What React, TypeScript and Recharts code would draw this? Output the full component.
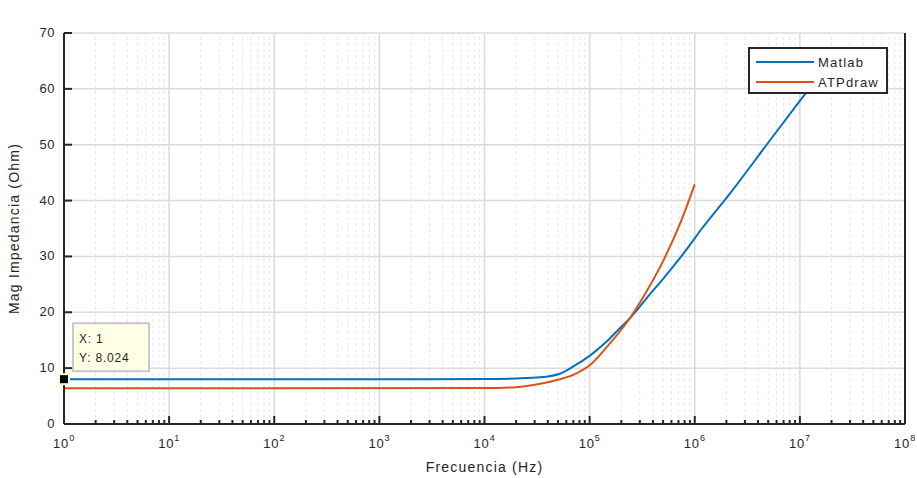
import { LineChart, Line, XAxis, YAxis, CartesianGrid, ReferenceLine, ReferenceDot, Label } from 'recharts';

// Matlab curve (blue)
const matlabFreq = [1, 1e3, 1e4, 2e4, 3.4e4, 5.2e4, 7e4, 1e5, 1.46e5, 1.95e5, 2.3e5, 3.77e5, 5e5, 8.4e5, 1.17e6, 2.17e6, 5.2e6, 1.2e7];
const matlabMag = [8.024, 8.024, 8.06, 8.15, 8.35, 9.0, 10.3, 12.2, 14.8, 17.2, 18.5, 23.3, 26.0, 31.3, 35.0, 41.3, 50.8, 59.8];

// ATPdraw curve (orange)
const atpFreq = [1, 1e4, 2e4, 3.4e4, 5.2e4, 7e4, 1e5, 1.46e5, 2.3e5, 3.25e5, 5.04e5, 7.26e5, 1e6];
const atpMag = [6.4, 6.45, 6.6, 7.2, 8.0, 8.8, 10.5, 13.8, 18.4, 22.8, 29.3, 35.9, 42.9];

const decades = [1, 10, 100, 1e3, 1e4, 1e5, 1e6, 1e7, 1e8];
const yTicks = [0, 10, 20, 30, 40, 50, 60, 70];
const minorTicks: number[] = [];
decades.slice(0, -1).forEach(d => {
  for (let k = 2; k <= 9; k++) minorTicks.push(d * k);
});
const allXTicks = [...decades, ...minorTicks].sort((a, b) => a - b);

const tip = { x: 1, y: 8.024 };

const matlabData = matlabFreq.map((f, i) => ({ f, v: matlabMag[i] }));
const atpData = atpFreq.map((f, i) => ({ f, v: atpMag[i] }));

const FONT = 'Liberation Sans, Arial, Helvetica, sans-serif';
const AX = '#262626';

const isDecade = (v: number) => decades.some(d => Math.abs(d - v) / d < 1e-9);

function BottomTick(props: any) {
  const { x, y, payload } = props;
  const major = isDecade(payload.value);
  const exp = Math.round(Math.log10(payload.value));
  return (
    <g>
      <line x1={x} y1={y} x2={x} y2={y - (major ? 8 : 4)} stroke={AX} strokeWidth={2} />
      {major && (
        <text x={x} y={y + 24} textAnchor="middle" fill={AX} fontSize={13} letterSpacing={0.8} fontFamily={FONT}>
          <tspan>10</tspan>
          <tspan dy={-7} fontSize={9}>{exp}</tspan>
        </text>
      )}
    </g>
  );
}

function TopTick(props: any) {
  const { x, y, payload } = props;
  const major = isDecade(payload.value);
  return <line x1={x} y1={y} x2={x} y2={y + (major ? 8 : 4)} stroke={AX} strokeWidth={2} />;
}

function LeftTick(props: any) {
  const { x, y, payload } = props;
  return (
    <g>
      <line x1={x + 9} y1={y} x2={x + 17} y2={y} stroke={AX} strokeWidth={2} />
      <text x={x} y={y + 4} textAnchor="end" fill={AX} fontSize={13} letterSpacing={0.5} fontFamily={FONT}>
        {payload.value}
      </text>
    </g>
  );
}

function RightTick(props: any) {
  const { x, y } = props;
  return <line x1={x} y1={y} x2={x - 8} y2={y} stroke={AX} strokeWidth={2} />;
}

function DataTip(props: any) {
  const { cx, cy } = props;
  return (
    <g>
      <rect x={cx + 9} y={cy - 56} width={76} height={48} fill="#ffffe6" stroke="#c8c8c8" strokeWidth={2} />
      <text x={cx + 15} y={cy - 36} fill={AX} fontSize={12} letterSpacing={0.8} fontFamily={FONT}>X: {tip.x}</text>
      <text x={cx + 15} y={cy - 17} fill={AX} fontSize={12} letterSpacing={0.8} fontFamily={FONT}>Y: {tip.y}</text>
      <rect x={cx - 5} y={cy - 5} width={10} height={10} fill="#000" stroke="#ffffcc" strokeWidth={2} />
    </g>
  );
}

export default function App() {
  return (
    <div style={{ position: 'absolute', left: 0, top: 0, width: 917, height: 478, background: '#fff', fontFamily: FONT }}>
      <LineChart width={917} height={478} margin={{ top: 33, right: 0, left: 0, bottom: 0 }}>
        <CartesianGrid vertical={false} stroke="#dadada" strokeWidth={1.5} yAxisId={0} />
        {minorTicks.map(v => (
          <ReferenceLine key={'m' + v} x={v} stroke="#e6e6e6" strokeWidth={1} strokeDasharray="3 3" />
        ))}
        {decades.slice(1, -1).map(v => (
          <ReferenceLine key={'d' + v} x={v} stroke="#dadada" strokeWidth={1.5} />
        ))}
        <XAxis
          dataKey="f"
          type="number"
          scale="log"
          domain={[1, 1e8]}
          ticks={allXTicks}
          interval={0}
          allowDataOverflow
          height={54}
          tickSize={0}
          tickMargin={0}
          tick={<BottomTick />}
          axisLine={{ stroke: AX, strokeWidth: 2 }}
          tickLine={false}
        >
          <Label value="Frecuencia (Hz)" position="insideBottom" offset={6} fill={AX} fontSize={14} letterSpacing={1.2} fontFamily={FONT} />
        </XAxis>
        <XAxis
          xAxisId="top"
          orientation="top"
          dataKey="f"
          type="number"
          scale="log"
          domain={[1, 1e8]}
          ticks={allXTicks}
          interval={0}
          allowDataOverflow
          height={0}
          tickSize={0}
          tickMargin={0}
          tick={<TopTick />}
          axisLine={{ stroke: AX, strokeWidth: 2 }}
          tickLine={false}
        >
          <Label value="Impedancia vs frecuencia" position="top" offset={9} fill="#000" fontSize={16} fontWeight="bold" letterSpacing={1.6} fontFamily={FONT} />
        </XAxis>
        <YAxis
          type="number"
          domain={[0, 70]}
          ticks={yTicks}
          interval={0}
          width={64}
          tickSize={0}
          tickMargin={9}
          tick={<LeftTick />}
          axisLine={{ stroke: AX, strokeWidth: 2 }}
          tickLine={false}
        >
          <Label value="Mag Impedancia (Ohm)" angle={-90} position="insideLeft" offset={14} style={{ textAnchor: 'middle' }} fill={AX} fontSize={14} letterSpacing={1.2} fontFamily={FONT} />
        </YAxis>
        <YAxis
          yAxisId="right"
          orientation="right"
          type="number"
          domain={[0, 70]}
          ticks={yTicks}
          interval={0}
          width={12}
          tickSize={0}
          tickMargin={0}
          tick={<RightTick />}
          axisLine={{ stroke: AX, strokeWidth: 2 }}
          tickLine={false}
        />
        <Line data={matlabData} dataKey="v" type="monotone" stroke="#0072BD" strokeWidth={2} dot={false} isAnimationActive={false} name="Matlab" />
        <Line data={atpData} dataKey="v" type="monotone" stroke="#D95319" strokeWidth={2} dot={false} isAnimationActive={false} name="ATPdraw" />
        <ReferenceDot x={tip.x} y={tip.y} shape={<DataTip />} />
      </LineChart>
      <div
        style={{
          position: 'absolute',
          left: 748,
          top: 47,
          width: 136,
          height: 43,
          background: '#fff',
          border: '2px solid #262626',
          fontSize: 13,
          letterSpacing: 1.2,
          color: AX,
        }}
      >
        {[
          { name: 'Matlab', color: '#0072BD' },
          { name: 'ATPdraw', color: '#D95319' },
        ].map((s, i) => (
          <div key={s.name} style={{ position: 'absolute', left: 6, top: 5 + i * 20, display: 'flex', alignItems: 'center', height: 16 }}>
            <div style={{ width: 58, height: 2, background: s.color, marginRight: 4 }} />
            <span>{s.name}</span>
          </div>
        ))}
      </div>
    </div>
  );
}
